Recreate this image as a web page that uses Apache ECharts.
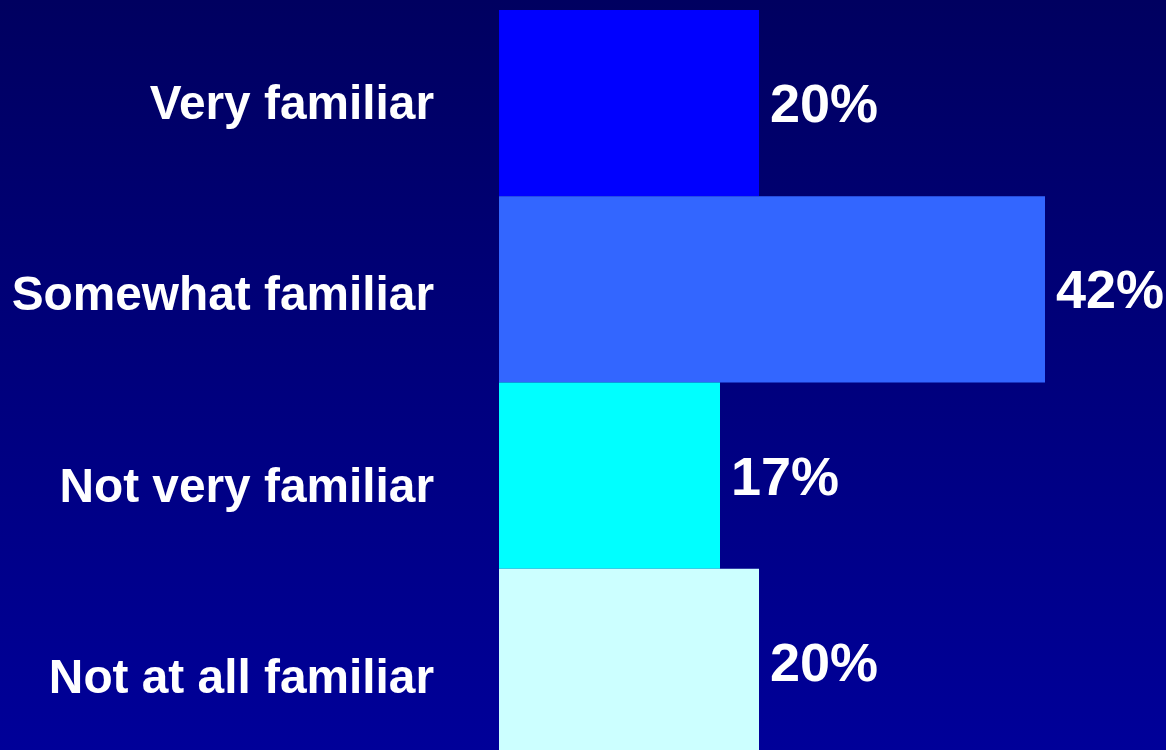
<!DOCTYPE html>
<html>
<head>
<meta charset="utf-8">
<script src="https://cdn.jsdelivr.net/npm/echarts@6/dist/echarts.min.js"></script>
<style>
  html, body { margin: 0; padding: 0; width: 100%; height: 100%; overflow: hidden; }
  #chart { width: 1166px; height: 750px; }
</style>
</head>
<body>
<div id="chart"></div>
<script>
// Familiarity survey responses (percent of respondents)
const categories = ['Very familiar', 'Somewhat familiar', 'Not very familiar', 'Not at all familiar'];
const values = [20, 42, 17, 20];
const barColors = ['#0000FF', '#3366FF', '#00FFFF', '#CCFFFF'];

const labelFont = 'Liberation Sans, Arial, sans-serif';

const chart = echarts.init(document.getElementById('chart'), null, { renderer: 'canvas' });

chart.setOption({
  animation: false,
  backgroundColor: {
    type: 'linear', x: 0, y: 0, x2: 0, y2: 1,
    colorStops: [
      { offset: 0, color: '#000060' },
      { offset: 1, color: '#000099' }
    ]
  },
  grid: [
    // bars; the last one runs slightly past the bottom edge
    { left: 499, top: 10, width: 650, height: 745, outerBoundsMode: 'none', containLabel: false },
    // category captions sit on a slightly wider spacing than the bars
    { left: 499, top: 10, width: 650, height: 766, outerBoundsMode: 'none', containLabel: false }
  ],
  xAxis: [
    { gridIndex: 0, type: 'value', min: 0, max: 50, show: false },
    { gridIndex: 1, type: 'value', min: 0, max: 50, show: false }
  ],
  yAxis: [
    {
      gridIndex: 0,
      type: 'category',
      data: categories,
      inverse: true,
      axisLine: { show: false },
      axisTick: { show: false },
      splitLine: { show: false },
      axisLabel: { show: false }
    },
    {
      gridIndex: 1,
      type: 'category',
      data: categories,
      inverse: true,
      axisLine: { show: false },
      axisTick: { show: false },
      splitLine: { show: false },
      axisLabel: {
        margin: 65,
        color: '#FFFFFF',
        fontFamily: labelFont,
        fontWeight: 'bold',
        fontSize: 47.8
      }
    }
  ],
  series: [{
    type: 'bar',
    xAxisIndex: 0,
    yAxisIndex: 0,
    barCategoryGap: 0,
    data: values.map((v, i) => ({ value: v, itemStyle: { color: barColors[i] } })),
    label: {
      show: true,
      position: 'right',
      distance: 11,
      offset: [0, 4],
      formatter: '{c}%',
      color: '#FFFFFF',
      fontFamily: labelFont,
      fontWeight: 'bold',
      fontSize: 54
    }
  }]
});
</script>
</body>
</html>
